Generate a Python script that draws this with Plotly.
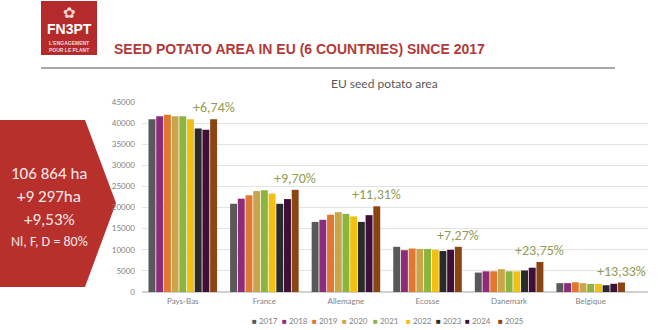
import plotly.graph_objects as go

countries = ["Pays-Bas", "France", "Allemagne", "Ecosse", "Danemark", "Belgique"]
years = ["2017", "2018", "2019", "2020", "2021", "2022", "2023", "2024", "2025"]
colors = ["#595959", "#8E2C7C", "#E0782F", "#C9A64C", "#8DB43E", "#F2C010",
          "#2A2A2A", "#3F0F37", "#8B4513"]
values = {
    "2017": [40900, 20900, 16600, 10700, 4600, 2100],
    "2018": [41600, 22100, 17100, 9900, 4900, 2100],
    "2019": [42000, 22900, 18300, 10300, 4900, 2300],
    "2020": [41600, 23900, 18900, 10200, 5400, 2100],
    "2021": [41600, 24100, 18500, 10200, 4900, 1900],
    "2022": [40900, 23300, 17900, 10000, 4900, 1900],
    "2023": [38700, 20900, 16600, 9700, 5100, 1600],
    "2024": [38400, 22000, 18200, 10000, 5750, 1950],
    "2025": [40900, 24200, 20300, 10700, 7100, 2250],
}
pct_labels = ["+6,74%", "+9,70%", "+11,31%", "+7,27%", "+23,75%", "+13,33%"]
box_lines = ["106 864 ha", "+9 297ha", "+9,53%", "Nl, F, D = 80%"]

W, H = 660, 330
def px(x): return x / W
def py(y): return 1 - y / H

fig = go.Figure()
for yr, c in zip(years, colors):
    fig.add_trace(go.Bar(x=countries, y=values[yr], name=yr, marker_color=c,
                         marker_line_width=0, showlegend=False))

bargap = 0.15
n = len(years)
grp = 1 - bargap
off_last = -grp / 2 + grp / n * (n - 0.5)
ann = []
for i, (lab, v) in enumerate(zip(pct_labels, values["2025"])):
    ann.append(dict(x=i + off_last, y=v, xref="x", yref="y", text=lab, showarrow=False,
                    xanchor="center", yanchor="bottom", yshift=1,
                    font=dict(family="Calibri, Carlito, Lato, sans-serif", size=14, color="#929B50")))

# legend built manually
leg_x = [250, 280, 310, 340, 371, 404, 434, 463, 496]
for yr, c, lx in zip(years, colors, leg_x):
    ann.append(dict(x=px(lx), y=py(321), xref="paper", yref="paper", xanchor="left",
                    yanchor="middle", showarrow=False,
                    text=f"<span style='color:{c}'>■</span> {yr}",
                    font=dict(family="Lato, sans-serif", size=8, color="#7F7F7F")))

def pann(x, y, text, font, xanchor="center"):
    ann.append(dict(x=px(x), y=py(y), xref="paper", yref="paper", xanchor=xanchor,
                    yanchor="middle", showarrow=False, text=text, font=font))

# header
pann(112, 49, "<b>SEED POTATO AREA IN EU (6 COUNTRIES) SINCE 2017</b>",
     dict(family="Liberation Sans, Arial, sans-serif", size=14, color="#B23A3A"), xanchor="left")
pann(384, 84, "EU seed potato area", dict(family="Lato, sans-serif", size=12, color="#595959"))
# logo text
pann(69, 29, "<b>FN3PT</b>", dict(family="Liberation Sans, Arial", size=14, color="white"))
pann(69, 46, "<b>L'ENGAGEMENT<br>POUR LE PLANT</b>",
     dict(family="Liberation Sans, Arial", size=5, color="#F3D6D6"))
pann(69, 13, "✿", dict(family="DejaVu Sans", size=15, color="#F3D6D6"))
# box text
box_y = [173, 196, 219, 241]
box_size = [17, 17, 17, 14]
for t, yy, s in zip(box_lines, box_y, box_size):
    pann(49, yy, t, dict(family="Calibri, Carlito, Lato, sans-serif", size=s, color="#F7E8E8"))

shapes = [
    dict(type="rect", xref="paper", yref="paper", x0=px(41), x1=px(97), y0=py(55), y1=py(1),
         fillcolor="#B52B2B", line_width=0, layer="below"),
    dict(type="line", xref="paper", yref="paper", x0=px(41), x1=px(615), y0=py(68), y1=py(68),
         line=dict(color="#8A8A8A", width=1.5)),
    dict(type="path", xref="paper", yref="paper",
         path=f"M {px(0)},{py(120)} L {px(85)},{py(120)} L {px(116)},{py(203)} L {px(85)},{py(287)} L {px(0)},{py(287)} Z",
         fillcolor="#B8302C", line_width=0, layer="below"),
]

fig.update_layout(
    width=W, height=H, margin=dict(l=0, r=0, t=0, b=0),
    paper_bgcolor="white", plot_bgcolor="white",
    barmode="group", bargap=bargap, bargroupgap=0.1,
    xaxis=dict(domain=[px(142), px(648)], showgrid=False, showline=False, ticks="",
               tickfont=dict(family="Lato, sans-serif", size=8, color="#7F7F7F"), automargin=False,
               ticklabelstandoff=3),
    yaxis=dict(domain=[py(292), py(102)], range=[0, 45000], dtick=5000, tickformat="d",
               showgrid=True, gridcolor="#E3E3E3", gridwidth=1, zeroline=True, zerolinecolor="#D0D0D0",
               tickfont=dict(family="Lato, sans-serif", size=8, color="#7F7F7F"),
               ticklabelstandoff=6, automargin=False),
    annotations=ann, shapes=shapes, showlegend=False,
)
fig.write_html("out.html")
